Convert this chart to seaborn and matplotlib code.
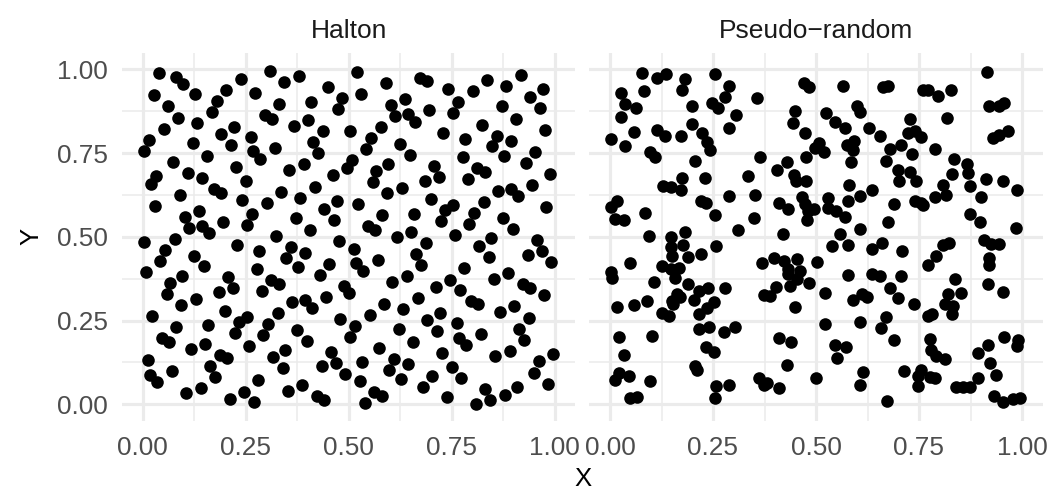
import matplotlib
matplotlib.use("Agg")
import matplotlib.pyplot as plt
import pandas as pd
import seaborn as sns

# ---------------- data ----------------
halton_x = [
    0.500, 0.250, 0.750, 0.125, 0.625, 0.375, 0.875,
    0.0625, 0.5625, 0.3125, 0.8125, 0.1875, 0.6875, 0.4375, 0.9375,
    0.031, 0.531, 0.281, 0.781, 0.156, 0.656, 0.406, 0.906, 0.094, 0.594, 0.344, 0.844, 0.219, 0.719, 0.469, 0.969,
    0.016, 0.516, 0.266, 0.766, 0.141, 0.641, 0.391, 0.891, 0.078, 0.578, 0.328, 0.828, 0.203, 0.703, 0.453, 0.953,
    0.047, 0.547, 0.297, 0.797, 0.172, 0.672, 0.422, 0.922, 0.109, 0.609, 0.359, 0.859, 0.234, 0.734, 0.484, 0.984,
    0.008, 0.508, 0.258, 0.758, 0.133, 0.633, 0.383, 0.883, 0.070, 0.570, 0.320, 0.820, 0.195, 0.695, 0.445, 0.945,
    0.039, 0.539, 0.289, 0.789, 0.164, 0.664, 0.414, 0.914, 0.102, 0.602, 0.352, 0.852, 0.227, 0.727, 0.477, 0.977,
    0.023, 0.523, 0.273, 0.773, 0.148, 0.648, 0.398, 0.898, 0.086, 0.586, 0.336, 0.836, 0.211, 0.711, 0.461, 0.961,
    0.055, 0.555, 0.305, 0.805, 0.180, 0.680, 0.430, 0.930, 0.117, 0.617, 0.367, 0.867, 0.242, 0.742, 0.492, 0.992,
    0.004, 0.504, 0.254, 0.754, 0.129, 0.629, 0.379, 0.879, 0.066, 0.566, 0.316, 0.816, 0.191, 0.691, 0.441, 0.941,
    0.035, 0.535, 0.285, 0.785, 0.160, 0.660, 0.410, 0.910, 0.098, 0.598, 0.348, 0.848, 0.223, 0.723, 0.473, 0.973,
    0.020, 0.520, 0.270, 0.770, 0.145, 0.645, 0.395, 0.895, 0.082, 0.582, 0.332, 0.832, 0.207, 0.707, 0.457, 0.957,
    0.051, 0.551, 0.301, 0.801, 0.176, 0.676, 0.426, 0.926, 0.113, 0.613, 0.363, 0.863, 0.238, 0.738, 0.488, 0.988,
    0.012, 0.512, 0.262, 0.762, 0.137, 0.637, 0.387, 0.887, 0.074, 0.574, 0.324, 0.824, 0.199, 0.699, 0.449, 0.949,
    0.043, 0.543, 0.293, 0.793, 0.168, 0.668, 0.418, 0.918, 0.105, 0.605, 0.355, 0.855, 0.230, 0.730, 0.480, 0.980,
    0.027, 0.527, 0.277, 0.777, 0.152, 0.652, 0.402, 0.902, 0.090, 0.590, 0.340, 0.840, 0.215, 0.715, 0.465, 0.965,
    0.059, 0.559, 0.309, 0.809, 0.184, 0.684, 0.434, 0.934, 0.121, 0.621, 0.371, 0.871, 0.246, 0.746, 0.496, 0.996,
    0.002, 0.502, 0.252, 0.752, 0.127, 0.627, 0.377, 0.877, 0.064, 0.564, 0.314, 0.814, 0.189, 0.689, 0.439, 0.939,
    0.033, 0.533, 0.283, 0.783, 0.158, 0.658, 0.408, 0.908, 0.096, 0.596, 0.346, 0.846, 0.221, 0.721, 0.471, 0.971,
    0.018, 0.518, 0.268, 0.768, 0.143, 0.643, 0.393, 0.893, 0.080, 0.580, 0.330, 0.830, 0.205,
]
halton_y = [
    0.333, 0.667, 0.111, 0.444, 0.778, 0.222, 0.556, 0.889,
    0.037, 0.370, 0.704, 0.148, 0.481, 0.815, 0.259, 0.593, 0.926, 0.074, 0.407, 0.741, 0.185, 0.519, 0.852, 0.296, 0.630, 0.963,
    0.012, 0.346, 0.679, 0.123, 0.457, 0.790, 0.235, 0.568, 0.901, 0.049, 0.383, 0.716, 0.160, 0.494, 0.827, 0.272, 0.605, 0.938,
    0.086, 0.420, 0.753, 0.198, 0.531, 0.864, 0.309, 0.642, 0.975, 0.025, 0.358, 0.691, 0.136, 0.469, 0.802, 0.247, 0.580, 0.914,
    0.062, 0.395, 0.728, 0.173, 0.506, 0.840, 0.284, 0.617, 0.951, 0.099, 0.432, 0.765, 0.210, 0.543, 0.877, 0.321, 0.654, 0.988,
    0.004, 0.337, 0.671, 0.115, 0.449, 0.782, 0.226, 0.560, 0.893,
    0.041, 0.374, 0.708, 0.152, 0.486, 0.819, 0.263, 0.597, 0.930,
    0.078, 0.412, 0.745, 0.189, 0.523, 0.856, 0.300, 0.634, 0.967,
    0.016, 0.350, 0.683, 0.128, 0.461, 0.794, 0.239, 0.572, 0.905,
    0.053, 0.387, 0.720, 0.165, 0.498, 0.831, 0.276, 0.609, 0.942,
    0.091, 0.424, 0.757, 0.202, 0.535, 0.868, 0.313, 0.646, 0.979,
    0.029, 0.362, 0.695, 0.140, 0.473, 0.807, 0.251, 0.584, 0.918,
    0.066, 0.399, 0.733, 0.177, 0.510, 0.844, 0.288, 0.621, 0.955,
    0.103, 0.436, 0.770, 0.214, 0.547, 0.881, 0.325, 0.658, 0.992,
    0.008, 0.342, 0.675, 0.119, 0.453, 0.786, 0.230, 0.564, 0.897,
    0.045, 0.379, 0.712, 0.156, 0.490, 0.823, 0.267, 0.601, 0.934,
    0.082, 0.416, 0.749, 0.193, 0.527, 0.860, 0.305, 0.638, 0.971,
    0.021, 0.354, 0.687, 0.132, 0.465, 0.798, 0.243, 0.576, 0.910,
    0.058, 0.391, 0.724, 0.169, 0.502, 0.835, 0.280, 0.613, 0.947,
    0.095, 0.428, 0.761, 0.206, 0.539, 0.872, 0.317, 0.650, 0.984,
    0.033, 0.366, 0.700, 0.144, 0.477, 0.811, 0.255, 0.588, 0.922,
    0.070, 0.403, 0.737, 0.181, 0.514, 0.848, 0.292, 0.626, 0.959,
    0.107, 0.440, 0.774, 0.218, 0.551, 0.885, 0.329, 0.663, 0.996,
    0.001, 0.335, 0.668, 0.113, 0.446, 0.779, 0.224, 0.557, 0.890,
    0.038, 0.372, 0.705, 0.150, 0.483, 0.816, 0.261, 0.594, 0.927,
    0.075, 0.409, 0.742, 0.187, 0.520, 0.853, 0.298, 0.631, 0.964,
    0.014, 0.347, 0.680, 0.125, 0.458, 0.792, 0.236, 0.569, 0.903,
    0.051, 0.384, 0.717, 0.162, 0.495, 0.829, 0.273, 0.606, 0.940,
    0.088, 0.421, 0.755, 0.199, 0.532, 0.866, 0.310, 0.643, 0.977,
    0.026, 0.359, 0.693, 0.137,
]

pseudo_x = [
    0.077, 0.115, 0.137, 0.181, 0.175, 0.256, 0.290, 0.026, 0.082, 0.036, 0.062, 0.026,
    0.199, 0.248, 0.262, 0.280, 0.305, 0.199, 0.058, 0.002, 0.036, 0.115, 0.133, 0.173,
    0.223, 0.235, 0.243, 0.290, 0.097, 0.109, 0.207, 0.175, 0.230, 0.129, 0.147, 0.173, 0.288,
    0.018, 0.002, 0.012, 0.034, 0.086, 0.221, 0.232, 0.256, 0.094, 0.147, 0.183, 0.310,
    0.357, 0.471, 0.484, 0.565, 0.449, 0.444, 0.474, 0.524, 0.546, 0.570, 0.600, 0.608, 0.629,
    0.498, 0.508, 0.519, 0.476, 0.576, 0.592, 0.589, 0.584, 0.363, 0.429, 0.405, 0.334, 0.447,
    0.452, 0.476, 0.581, 0.635, 0.607, 0.578, 0.353, 0.409, 0.433, 0.466, 0.474, 0.481, 0.495,
    0.479, 0.530, 0.530, 0.549, 0.570, 0.349, 0.419, 0.558, 0.608,
    0.662, 0.674, 0.760, 0.772, 0.796, 0.828, 0.915, 0.921, 0.943, 0.956, 0.929, 0.945, 0.966,
    0.727, 0.819, 0.655, 0.723, 0.740, 0.754, 0.679, 0.707, 0.732, 0.671, 0.790, 0.698, 0.701,
    0.727, 0.743, 0.836, 0.830, 0.867, 0.869, 0.873, 0.913, 0.953, 0.989, 0.808, 0.790, 0.816,
    0.740, 0.754, 0.760, 0.690, 0.901, 0.675, 0.873, 0.897, 0.985,
    0.147, 0.151, 0.177, 0.190, 0.222, 0.258, 0.002, 0.006, 0.048, 0.125, 0.147, 0.167, 0.157,
    0.106, 0.190, 0.163, 0.171, 0.151, 0.152, 0.215, 0.238, 0.278, 0.203, 0.252, 0.235, 0.215,
    0.018, 0.058, 0.090, 0.125, 0.143, 0.217, 0.241, 0.276, 0.303, 0.023, 0.101, 0.034, 0.233,
    0.252, 0.207, 0.211, 0.022, 0.012, 0.046, 0.098, 0.048, 0.066, 0.258, 0.254, 0.290,
    0.578, 0.538, 0.635, 0.369, 0.397, 0.423, 0.455, 0.431, 0.433, 0.461, 0.453, 0.436, 0.484,
    0.503, 0.403, 0.389, 0.373, 0.449, 0.522, 0.578, 0.635, 0.590, 0.611, 0.623, 0.522, 0.608,
    0.411, 0.439, 0.546, 0.573, 0.550, 0.429, 0.361, 0.373, 0.381, 0.411, 0.500, 0.613, 0.606,
    0.661, 0.709, 0.808, 0.824, 0.792, 0.772, 0.907, 0.925, 0.943, 0.921, 0.921, 0.655, 0.706,
    0.838, 0.917, 0.953, 0.679, 0.698, 0.737, 0.820, 0.852, 0.812, 0.832, 0.830, 0.773, 0.781,
    0.671, 0.657, 0.690, 0.776, 0.778, 0.792, 0.812, 0.957, 0.991, 0.988, 0.918, 0.893, 0.923,
    0.937, 0.894, 0.714, 0.756, 0.747, 0.748, 0.776, 0.790, 0.840, 0.857, 0.873, 0.673, 0.932,
    0.953, 0.977, 0.995,
]
pseudo_y = [
    0.988, 0.975, 0.986, 0.971, 0.938, 0.985, 0.951, 0.929, 0.935, 0.896, 0.884, 0.859,
    0.891, 0.899, 0.884, 0.916, 0.862, 0.836, 0.812, 0.793, 0.770, 0.819, 0.800, 0.800,
    0.810, 0.783, 0.760, 0.826, 0.753, 0.737, 0.725, 0.676, 0.674, 0.653, 0.648, 0.639, 0.621,
    0.608, 0.588, 0.552, 0.550, 0.571, 0.606, 0.600, 0.566, 0.502, 0.499, 0.515, 0.521,
    0.914, 0.958, 0.948, 0.950, 0.876, 0.839, 0.810, 0.869, 0.844, 0.824, 0.889, 0.872, 0.824,
    0.765, 0.780, 0.753, 0.737, 0.775, 0.785, 0.760, 0.723, 0.737, 0.723, 0.700, 0.681, 0.683,
    0.667, 0.668, 0.656, 0.641, 0.621, 0.608, 0.624, 0.601, 0.584, 0.618, 0.597, 0.578, 0.584,
    0.549, 0.616, 0.586, 0.578, 0.559, 0.555, 0.507, 0.507, 0.522,
    0.946, 0.951, 0.938, 0.938, 0.919, 0.937, 0.991, 0.889, 0.889, 0.899, 0.795, 0.805, 0.816,
    0.852, 0.856, 0.800, 0.810, 0.816, 0.797, 0.763, 0.773, 0.747, 0.727, 0.762, 0.700, 0.668,
    0.693, 0.668, 0.732, 0.688, 0.717, 0.690, 0.653, 0.672, 0.667, 0.639, 0.654, 0.618, 0.626,
    0.606, 0.601, 0.594, 0.598, 0.618, 0.545, 0.568, 0.544, 0.525,
    0.469, 0.442, 0.477, 0.439, 0.449, 0.472, 0.396, 0.378, 0.423, 0.413, 0.405, 0.408, 0.378,
    0.365, 0.360, 0.330, 0.320, 0.309, 0.299, 0.338, 0.348, 0.348, 0.311, 0.304, 0.287, 0.269,
    0.291, 0.296, 0.307, 0.274, 0.264, 0.224, 0.231, 0.217, 0.231, 0.201, 0.204, 0.148, 0.170,
    0.155, 0.115, 0.102, 0.095, 0.072, 0.085, 0.070, 0.019, 0.023, 0.056, 0.019, 0.059,
    0.477, 0.472, 0.465, 0.423, 0.436, 0.428, 0.433, 0.403, 0.390, 0.398, 0.373, 0.353, 0.363,
    0.426, 0.350, 0.323, 0.325, 0.291, 0.333, 0.386, 0.390, 0.311, 0.330, 0.320, 0.241, 0.247,
    0.199, 0.185, 0.178, 0.172, 0.137, 0.117, 0.080, 0.059, 0.065, 0.049, 0.078, 0.098, 0.059,
    0.482, 0.459, 0.475, 0.482, 0.442, 0.416, 0.489, 0.479, 0.479, 0.437, 0.416, 0.383, 0.383,
    0.373, 0.360, 0.336, 0.346, 0.316, 0.299, 0.328, 0.333, 0.299, 0.294, 0.271, 0.264, 0.271,
    0.261, 0.229, 0.191, 0.194, 0.162, 0.145, 0.135, 0.201, 0.191, 0.175, 0.177, 0.152, 0.122,
    0.087, 0.078, 0.100, 0.102, 0.085, 0.055, 0.082, 0.080, 0.053, 0.053, 0.051, 0.011, 0.024,
    0.006, 0.016, 0.018,
]

panel_titles = ["Halton", "Pseudo\u2212random"]
tick_values = [0.0, 0.25, 0.5, 0.75, 1.0]
tick_labels = ["0.00", "0.25", "0.50", "0.75", "1.00"]
minor_values = [0.125, 0.375, 0.625, 0.875]

# ---------------- styling ----------------
sns.set_theme(style="white")
plt.rcParams["font.family"] = ["Liberation Sans", "DejaVu Sans"]

df = pd.concat([
    pd.DataFrame({"X": halton_x, "Y": halton_y, "method": panel_titles[0]}),
    pd.DataFrame({"X": pseudo_x, "Y": pseudo_y, "method": panel_titles[1]}),
], ignore_index=True)

W, H = 1062, 491
fig = plt.figure(figsize=(W / 100, H / 100), dpi=100)
fig.patch.set_facecolor("white")


def px_rect(x0, x1, y0, y1):
    return [x0 / W, 1 - y1 / H, (x1 - x0) / W, (y1 - y0) / H]


top_px, bot_px = 52.5, 421.1
ax_l = fig.add_axes(px_rect(122.1, 575.3, top_px, bot_px))
ax_r = fig.add_axes(px_rect(589.4, 1042.6, top_px, bot_px))

grid_col = "#EBEBEB"
text_col = "#4D4D4D"

for ax, title in zip([ax_l, ax_r], panel_titles):
    sub = df[df["method"] == title]
    sns.scatterplot(data=sub, x="X", y="Y", ax=ax, color="black", s=82,
                    linewidth=0, legend=False, zorder=3)
    ax.set_xlim(-0.05, 1.05)
    ax.set_ylim(-0.05, 1.05)
    ax.set_xticks(tick_values)
    ax.set_xticklabels(tick_labels)
    ax.set_yticks(tick_values)
    ax.set_yticklabels(tick_labels)
    ax.set_xticks(minor_values, minor=True)
    ax.set_yticks(minor_values, minor=True)
    ax.set_axisbelow(True)
    ax.grid(which="major", color=grid_col, linewidth=2.3)
    ax.grid(which="minor", color=grid_col, linewidth=1.15)
    for sp in ax.spines.values():
        sp.set_visible(False)
    ax.tick_params(which="both", length=0, labelsize=18.8, colors=text_col)
    ax.tick_params(axis="x", pad=10.6)
    ax.tick_params(axis="y", pad=10.2)
    ax.set_xlabel("")
    ax.set_ylabel("")
    ax.set_facecolor("white")
    ax.text(0.5, (bot_px - 38.3) / (bot_px - top_px), title, transform=ax.transAxes,
            ha="center", va="baseline", fontsize=19, color="#1A1A1A")

ax_r.tick_params(labelleft=False)

fig.text(583 / W, 1 - 486 / H, "X", ha="center", va="baseline", fontsize=18.5, color="black")
fig.text(31 / W, 1 - 236.8 / H, "Y", ha="center", va="center", fontsize=18.5,
         color="black", rotation=90)

fig.savefig("out.png", dpi=100, facecolor="white")
